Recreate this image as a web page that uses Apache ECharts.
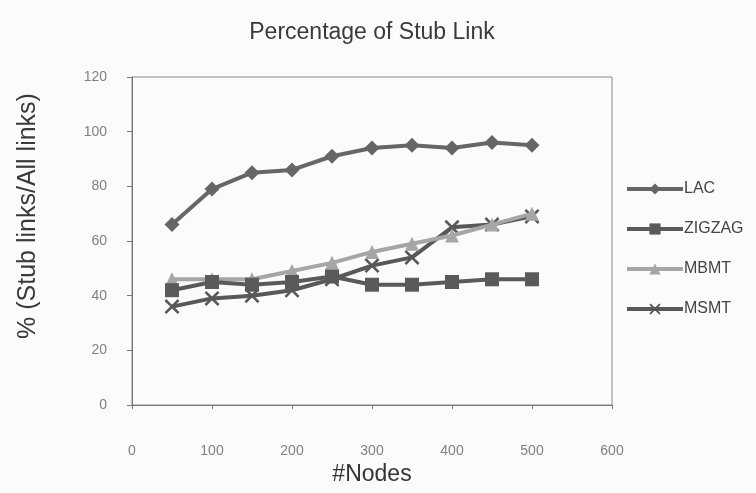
<!DOCTYPE html>
<html><head><meta charset="utf-8">
<script src="https://cdn.jsdelivr.net/npm/echarts@6/dist/echarts.min.js"></script>
<style>html,body{margin:0;padding:0;background:#fbfbfb}#c{width:756px;height:493px}</style>
</head><body><div id="c"></div>
<script>
const nodes = [50, 100, 150, 200, 250, 300, 350, 400, 450, 500];
const lac = [66, 79, 85, 86, 91, 94, 95, 94, 96, 95];
const zigzag = [42, 45, 44, 45, 47, 44, 44, 45, 46, 46];
const mbmt = [46, 46, 46, 49, 52, 56, 59, 62, 66, 70];
const msmt = [36, 39, 40, 42, 46, 51, 54, 65, 66, 69];
const seriesNames = ['LAC', 'ZIGZAG', 'MBMT', 'MSMT'];

const pair = arr => nodes.map((x, i) => [x, arr[i]]);
const xMark = 'path://M0,1.2L1.2,0L5,3.8L8.8,0L10,1.2L6.2,5L10,8.8L8.8,10L5,6.2L1.2,10L0,8.8L3.8,5Z';
const styles = [
  {color: '#666666', symbol: 'diamond', size: 15},
  {color: '#5a5a5a', symbol: 'rect', size: 14},
  {color: '#a6a6a6', symbol: 'triangle', size: 14},
  {color: '#585858', symbol: xMark, size: 15}
];
const data = [lac, zigzag, mbmt, msmt];
const FONT = 'Liberation Sans, Arial, sans-serif';

const chart = echarts.init(document.getElementById('c'));
chart.setOption({
  backgroundColor: '#fbfbfb',
  animation: false,
  textStyle: {fontFamily: FONT},
  title: {
    text: 'Percentage of Stub Link', left: 367, top: 16, textAlign: 'center',
    textStyle: {fontSize: 23, fontWeight: 'normal', color: '#3a3a3a', fontFamily: FONT}
  },
  grid: {left: 132, right: 144, top: 77, bottom: 88, show: true, borderColor: '#8a8a8a', borderWidth: 1, backgroundColor: 'transparent'},
  legend: {
    orient: 'vertical', left: 620, top: 176, itemWidth: 56, itemHeight: 14, itemGap: 24,
    data: seriesNames,
    lineStyle: {width: 4},
    textStyle: {fontSize: 16, color: '#444', padding: [0, 0, 0, -4]}
  },
  graphic: [{
    type: 'text', x: 28, y: 216, rotation: Math.PI / 2,
    style: {text: '% (Stub links/All links)', font: '25px ' + FONT, fill: '#3a3a3a', textAlign: 'center', textVerticalAlign: 'middle'}
  }],
  xAxis: {
    type: 'value', min: 0, max: 600, interval: 100,
    name: '#Nodes', nameLocation: 'middle', nameGap: 51,
    nameTextStyle: {fontSize: 23, color: '#333'},
    axisLine: {show: true, lineStyle: {color: '#777'}},
    axisTick: {show: true, length: 4, inside: false, lineStyle: {color: '#777'}},
    axisLabel: {fontSize: 14, color: '#808080', margin: 39},
    splitLine: {show: false}
  },
  yAxis: {
    type: 'value', min: 0, max: 120, interval: 20,
    axisLine: {show: true, lineStyle: {color: '#777'}},
    axisTick: {show: true, length: 5, lineStyle: {color: '#777'}},
    axisLabel: {fontSize: 14, color: '#808080', margin: 25},
    splitLine: {show: false}
  },
  series: seriesNames.map((n, i) => ({
    name: n, type: 'line', data: pair(data[i]),
    symbol: styles[i].symbol, symbolSize: styles[i].size,
    showAllSymbol: true,
    lineStyle: {width: 4, color: styles[i].color},
    itemStyle: {color: styles[i].color, opacity: 1},
    z: 10 - i
  }))
});
</script></body></html>
